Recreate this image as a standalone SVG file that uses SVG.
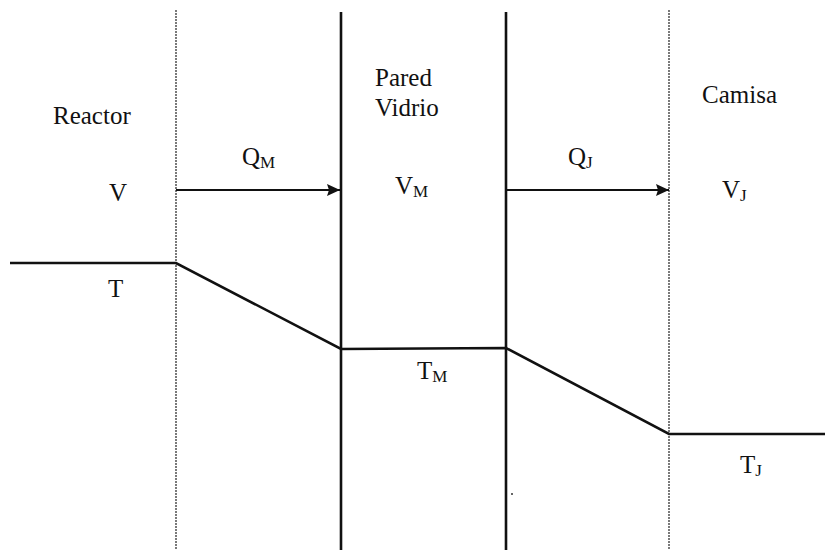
<svg xmlns="http://www.w3.org/2000/svg" width="825" height="550" viewBox="0 0 825 550">
<style>
.t{font-family:"Liberation Serif","Times New Roman",serif;font-size:25px;fill:#111}
.s{font-size:17px}
.dot{stroke:#222;stroke-width:1.2;stroke-dasharray:2 1;fill:none}
.wall{stroke:#111;stroke-width:2.6;fill:none}
.temp{stroke:#111;stroke-width:2.6;fill:none;stroke-linejoin:miter}
.arr{stroke:#111;stroke-width:2;fill:none}
</style>
<defs>
<marker id="ah" markerWidth="13" markerHeight="12" refX="13" refY="6" orient="auto" markerUnits="userSpaceOnUse">
<path d="M0,0 L13,6 L0,12 L2,6 Z" fill="#111"/>
</marker>
</defs>
<rect width="825" height="550" fill="#fff"/>
<g id="boundaries">
<line class="dot" x1="176" y1="10" x2="176" y2="550"/>
<line class="wall" x1="341" y1="12" x2="341" y2="550"/>
<line class="wall" x1="506" y1="12" x2="506" y2="550"/>
<line class="dot" x1="669" y1="10" x2="669" y2="550"/>
</g>
<g id="connectors">
<line class="arr" x1="176" y1="190" x2="340" y2="190" marker-end="url(#ah)"/>
<line class="arr" x1="506" y1="190" x2="669" y2="190" marker-end="url(#ah)"/>
<polyline class="temp" points="10,263 176,263 341,349 506,348 669,434 825,434"/>
</g>
<g id="reactor">
<text class="t" x="53" y="124">Reactor</text>
<text class="t" x="109" y="201">V</text>
<text class="t" x="108" y="297">T</text>
</g>
<g id="qm">
<text class="t" x="242" y="165">Q<tspan class="s" dy="3">M</tspan></text>
</g>
<g id="pared">
<text class="t" x="375" y="86">Pared</text>
<text class="t" x="375" y="116">Vidrio</text>
<text class="t" x="395" y="194">V<tspan class="s" dy="3">M</tspan></text>
<text class="t" x="417" y="379">T<tspan class="s" dy="3">M</tspan></text>
</g>
<g id="qj">
<text class="t" x="568" y="165">Q<tspan class="s" dy="3">J</tspan></text>
</g>
<g id="camisa">
<text class="t" x="702" y="103">Camisa</text>
<text class="t" x="722" y="198">V<tspan class="s" dy="3">J</tspan></text>
<text class="t" x="740" y="473">T<tspan class="s" dy="3">J</tspan></text>
</g>
<circle cx="512" cy="494" r="1" fill="#333"/>
</svg>
